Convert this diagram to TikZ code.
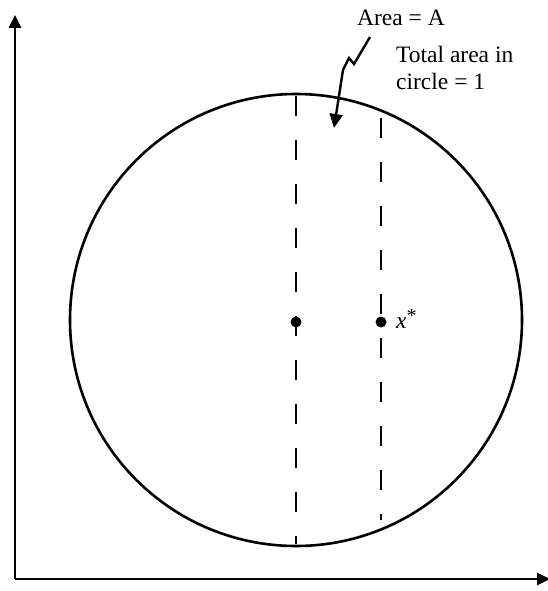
\documentclass[tikz,border=0pt]{standalone}
\usepackage{fontspec}
\setmainfont{Liberation Serif}
\usetikzlibrary{arrows.meta}
\tikzset{
  axis/.style={line width=2.8pt,-{Triangle[length=13pt,width=12pt]}},
  dashline/.style={line width=2.4pt,dash pattern=on 20pt off 24pt},
  dotmark/.style={circle,fill=black,inner sep=0pt,minimum size=11pt},
  lbl/.style={font=\fontsize{23.5}{27}\selectfont,inner sep=0pt},
}
\begin{document}
\begin{tikzpicture}[x=1pt,y=-1pt]
\useasboundingbox (0,0) rectangle (548,591);
% axes
\coordinate (origin) at (15,579);
\coordinate (ytop) at (15,15);
\coordinate (xend) at (550,579);
\draw[axis] (origin) -- (ytop);
\draw[axis] (origin) -- (xend);
% circle
\node[draw,circle,line width=2.6pt,minimum size=452pt,inner sep=0pt] (circ) at (296,320) {};
% dashed lines
\coordinate (a1) at (296,96);
\coordinate (a2) at (296,544);
\coordinate (b1) at (381,118);
\coordinate (b2) at (381,520);
\draw[dashline] (a1) -- (a2);
\draw[dashline] (b1) -- (b2);
% dots
\node[dotmark] (d1) at (296,322) {};
\node[dotmark] (d2) at (381,322) {};
\node[lbl,anchor=base west] (xs) at (396,328) {\textit{x}\raisebox{0.55ex}{\fontsize{20}{22}\selectfont *}};
% labels
\node[lbl,anchor=base] (area) at (401,26) {Area = A};
\node[lbl,anchor=base west] (tot) at (396,63) {Total area in};
\node[lbl,anchor=base west] (tot2) at (396,90) {circle = 1};
% zigzag arrow
\coordinate (z0) at (370,37);
\draw[line width=2.4pt,-{Triangle[length=14pt,width=13pt]}] (z0) -- (354,64) -- (349,58) -- (343,70) -- (334,128);
\end{tikzpicture}
\end{document}
